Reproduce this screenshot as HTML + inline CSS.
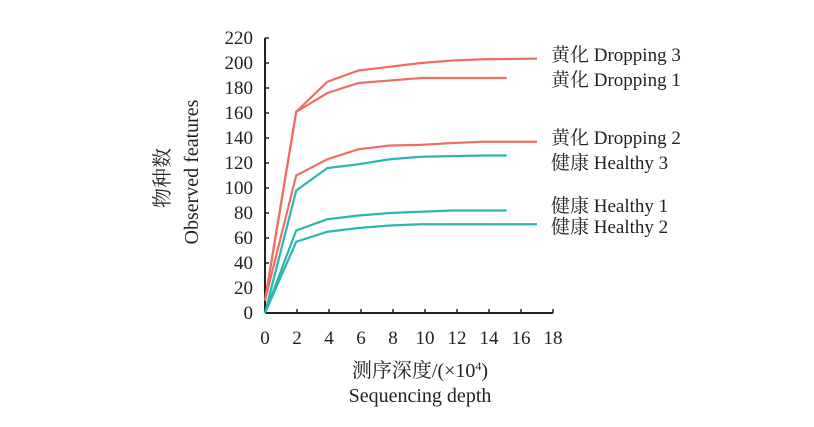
<!DOCTYPE html>
<html><head><meta charset="utf-8"><style>
body{margin:0;background:#fff}
svg text{font-family:"Liberation Serif","Noto Serif CJK SC",serif;fill:#222}
</style></head><body>
<svg width="814" height="422" viewBox="0 0 814 422">
<g id="axes"></g><g id="lines"></g><g id="labels"></g>
<text x="420" y="377" font-size="20" text-anchor="middle">测序深度/(×10<tspan dy="-7" font-size="12">4</tspan><tspan dy="7">)</tspan></text>
<text x="420" y="402" font-size="20" text-anchor="middle">Sequencing depth</text>
<text transform="translate(169,178) rotate(-90)" font-size="20" text-anchor="middle">物种数</text>
<text transform="translate(198,172) rotate(-90)" font-size="20" text-anchor="middle">Observed features</text>
</svg>
<script>
const xTicks=[0,2,4,6,8,10,12,14,16,18];
const yTicks=[0,20,40,60,80,100,120,140,160,180,200,220];
const names=["黄化 Dropping 3","黄化 Dropping 1","黄化 Dropping 2","健康 Healthy 3","健康 Healthy 1","健康 Healthy 2"];
const colors=["#ee6e64","#ee6e64","#ee6e64","#2bb5b3","#2bb5b3","#2bb5b3"];
const xsLong=[0,1.95,3.9,5.85,7.8,9.75,11.7,13.65,17];
const xsShort=[0,1.95,3.9,5.85,7.8,9.75,11.7,13.65,15.1];
const d3=[10,161,185,194,197,200,202,203,203.5];
const d1=[10,161,176,184,186,188,188,188,188];
const d2=[10,110,123,131,134,134.5,136,137,137];
const h3=[0,98,116,119,123,125,125.5,126,126];
const h1=[0,66,75,78,80,81,82,82,82];
const h2=[0,57,65,68,70,71,71,71,71];
const series=[d3,d1,d2,h3,h1,h2];
const seriesX=[xsLong,xsShort,xsLong,xsShort,xsShort,xsLong];
const labelY=[61,86,144,169,212,233];
const X=v=>265+v*16, Y=v=>313-v*1.25;
const NS="http://www.w3.org/2000/svg";
function mk(t,a,p){const e=document.createElementNS(NS,t);for(const k in a)e.setAttribute(k,a[k]);p.appendChild(e);return e;}
const ax=document.getElementById('axes');
let e=mk('line',{x1:265,y1:Y(0),x2:X(18),y2:Y(0),stroke:'#222','stroke-width':2},ax);


e=mk('line',{x1:265,y1:Y(220),x2:265,y2:Y(0),stroke:'#222','stroke-width':2},ax);


xTicks.forEach(t=>{
 mk('line',{x1:X(t),y1:Y(0),x2:X(t),y2:Y(0)-4,stroke:'#222','stroke-width':1.5},ax);
 const tx=mk('text',{x:X(t),y:344,'font-size':19,'text-anchor':'middle'},ax);tx.textContent=t;
 
 
});
yTicks.forEach(t=>{
 mk('line',{x1:265,y1:Y(t),x2:269,y2:Y(t),stroke:'#222','stroke-width':1.5},ax);
 const tx=mk('text',{x:253,y:Y(t)+6,'font-size':19,'text-anchor':'end'},ax);tx.textContent=t;
 
 
});
const lg=document.getElementById('lines'),lb=document.getElementById('labels');
series.forEach((s,i)=>{
 const pts=s.map((v,j)=>X(seriesX[i][j])+','+Y(v)).join(' ');
 const pl=mk('polyline',{points:pts,fill:'none',stroke:colors[i],'stroke-width':2.2},lg);
 
 
 const t=mk('text',{x:551,y:labelY[i],'font-size':19},lb);t.textContent=names[i];
 
 
});
</script>
</body></html>
